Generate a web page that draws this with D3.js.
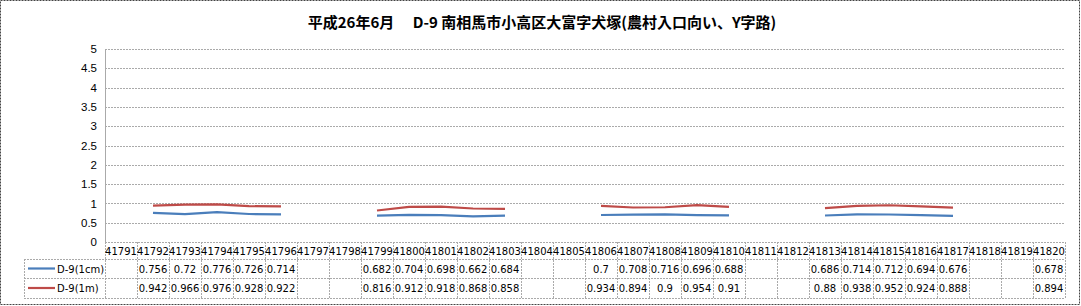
<!DOCTYPE html>
<html><head><meta charset="utf-8">
<script src="https://cdn.jsdelivr.net/npm/d3@7/dist/d3.min.js"></script>
<style>body{margin:0;background:#fff}svg{display:block}</style>
</head><body>
<script>
const categories = d3.range(41791, 41821).map(String);
const seriesNames = ["D-9(1cm)", "D-9(1m)"];
const seriesColors = ["#4a7ebb", "#be4b48"];
const s1cm = [null,0.756,0.72,0.776,0.726,0.714,null,null,0.682,0.704,0.698,0.662,0.684,null,null,0.7,0.708,0.716,0.696,0.688,null,null,0.686,0.714,0.712,0.694,0.676,null,null,0.678];
const s1m  = [null,0.942,0.966,0.976,0.928,0.922,null,null,0.816,0.912,0.918,0.868,0.858,null,null,0.934,0.894,0.9,0.954,0.91,null,null,0.88,0.938,0.952,0.924,0.888,null,null,0.894];
const yTicks = [0,0.5,1,1.5,2,2.5,3,3.5,4,4.5,5];
const title = "平成26年6月　 D-9 南相馬市小高区大富字犬塚(農村入口向い、Y字路)";

const W = 1081, H = 306;
const L = 105, R = 1065, T = 49, B = 242;
const font = "'Liberation Sans', 'Noto Sans CJK JP', sans-serif";
const tfont = "'DejaVu Sans', sans-serif";
const svg = d3.select("body").append("svg").attr("width", W).attr("height", H);

svg.append("rect").attr("x",0.5).attr("y",0.5).attr("width",W-2).attr("height",H-2)
  .attr("fill","#fff").attr("stroke","#444").attr("stroke-dasharray","2,1");

svg.append("text").attr("x",542).attr("y",28).attr("text-anchor","middle")
  .attr("font-family","'Noto Sans CJK JP', sans-serif").attr("font-weight","bold")
  .attr("font-size",15).attr("fill","#000").text(title);

const x = d3.scaleBand().domain(categories).range([L,R]);
const y = d3.scaleLinear().domain([0,5]).range([B,T]);

// grid
svg.append("g").selectAll("line").data(yTicks.filter(d=>d>0)).join("line")
  .attr("x1",L).attr("x2",R).attr("y1",d=>Math.round(y(d))+0.5).attr("y2",d=>Math.round(y(d))+0.5)
  .attr("stroke","#aaa").attr("stroke-dasharray","2,1");
svg.append("line").attr("x1",L+0.5).attr("x2",L+0.5).attr("y1",T).attr("y2",B)
  .attr("stroke","#aaa");

// y axis labels
const yAxis = d3.axisLeft(y).tickValues(yTicks).tickSize(0).tickPadding(8).tickFormat(d3.format("~g"));
const ga = svg.append("g").attr("transform",`translate(${L},0)`).call(yAxis);
ga.select(".domain").remove();
ga.selectAll("text").attr("font-family",font).attr("font-size",11.5).attr("fill","#000");

// lines
const line = d3.line().defined(d=>d!=null).x((d,i)=>x(categories[i])+x.bandwidth()/2).y(d=>y(d));
[s1cm, s1m].forEach((s,k)=>{
  svg.append("path").datum(s).attr("d",line).attr("fill","none")
    .attr("stroke",seriesColors[k]).attr("stroke-width",2.2).attr("stroke-linejoin","round");
});

// table
const rowY = [242, 259, 278, 298];
const tg = svg.append("g");
const gridC = "#aaa";
tg.append("line").attr("x1",L).attr("x2",R).attr("y1",rowY[0]+0.5).attr("y2",rowY[0]+0.5).attr("stroke",gridC).attr("stroke-dasharray","2,1");
[1,2,3].forEach(i=>{
  tg.append("line").attr("x1",24).attr("x2",R).attr("y1",rowY[i]+0.5).attr("y2",rowY[i]+0.5).attr("stroke",gridC).attr("stroke-dasharray","2,1");
});
categories.forEach((c,i)=>{
  tg.append("line").attr("x1",Math.round(x(c))+0.5).attr("x2",Math.round(x(c))+0.5)
    .attr("y1",rowY[0]).attr("y2",rowY[3]).attr("stroke",gridC).attr("stroke-dasharray","2,1");
});
tg.append("line").attr("x1",R+0.5).attr("x2",R+0.5).attr("y1",rowY[0]).attr("y2",rowY[3]).attr("stroke",gridC).attr("stroke-dasharray","2,1");
tg.append("line").attr("x1",24.5).attr("x2",24.5).attr("y1",rowY[1]).attr("y2",rowY[3]).attr("stroke",gridC).attr("stroke-dasharray","2,1");

tg.selectAll("text.cat").data(categories).join("text").attr("class","cat")
  .attr("x",c=>x(c)+x.bandwidth()/2).attr("y",rowY[0]+13).attr("text-anchor","middle")
  .attr("font-family",tfont).attr("font-size",10).attr("fill","#000").text(c=>c);

[s1cm, s1m].forEach((s,k)=>{
  const cy = (rowY[k+1]+rowY[k+2])/2;
  tg.append("line").attr("x1",28).attr("x2",55).attr("y1",cy).attr("y2",cy)
    .attr("stroke",seriesColors[k]).attr("stroke-width",2.2);
  tg.append("text").attr("x",57).attr("y",cy+4).attr("font-family",tfont).attr("font-size",10)
    .attr("fill","#000").text(seriesNames[k]);
  tg.selectAll(null).data(s.map((v,i)=>({v,c:categories[i]})).filter(d=>d.v!=null)).join("text")
    .attr("x",d=>x(d.c)+x.bandwidth()/2).attr("y",cy+4).attr("text-anchor","middle")
    .attr("font-family",tfont).attr("font-size",10).attr("fill","#000").text(d=>d.v);
});
</script>
</body></html>
